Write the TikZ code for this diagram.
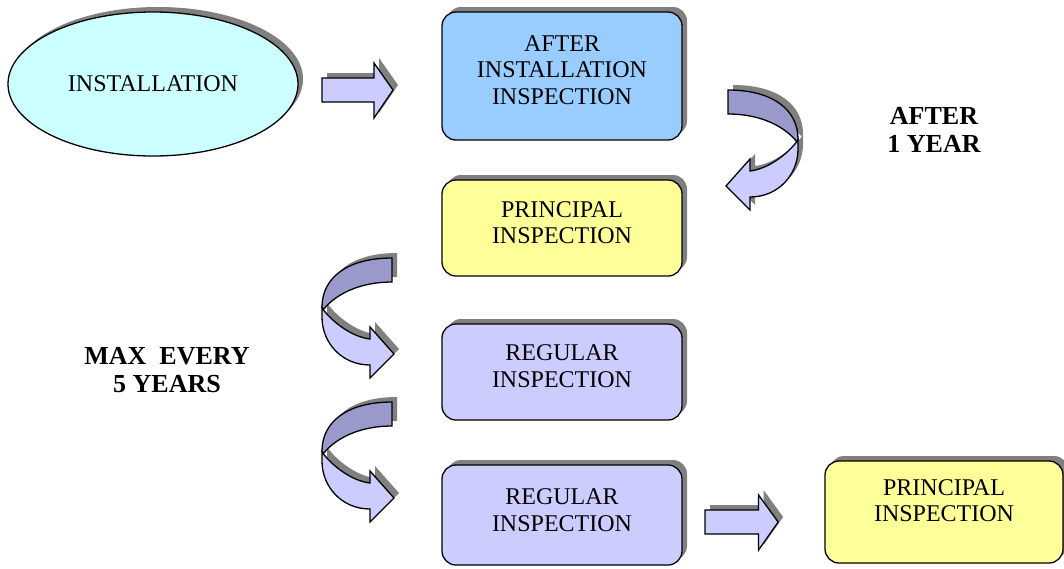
\documentclass[tikz,border=0pt]{standalone}
\usepackage{fontspec}
\setmainfont{Liberation Serif}
\usetikzlibrary{shapes.geometric,shadows}
\definecolor{boxblue}{HTML}{99CCFF}
\definecolor{boxyellow}{HTML}{FFFF99}
\definecolor{boxlav}{HTML}{CCCCFF}
\definecolor{ellcyan}{HTML}{CCFFFF}
\definecolor{curldark}{HTML}{9999CC}
\definecolor{shadowgray}{HTML}{808080}
\tikzset{
 shad/.style={drop shadow={shadow xshift=5pt,shadow yshift=5pt,fill=shadowgray,opacity=1}},
 stagebox/.style={draw=black,line width=1.3pt,rounded corners=14pt,align=center,
   font=\fontsize{24}{26.5}\selectfont,minimum width=240pt,inner sep=0pt,shad},
 blockarrow/.style={draw=black,line width=1.3pt,fill=boxlav,line join=miter},
 curlback/.style={draw=black,line width=1.3pt,fill=curldark,line join=miter},
 curlfront/.style={draw=black,line width=1.3pt,fill=boxlav,line join=miter},
 curlshadow/.style={fill=shadowgray},
 note/.style={font=\bfseries\fontsize{26}{28}\selectfont,align=center}
}
\newcommand\mycurlback{(0,0) .. controls (-45,0) and (-70,20) .. (-70,49) -- (-69,52) .. controls (-58,38) and (-35,24) .. (0,24) -- cycle}
\newcommand\mycurlfront{(-70,50) .. controls (-60,64) and (-40,79) .. (-22,81) -- (-22,69) -- (2,96) -- (-22,120) -- (-22,107) .. controls (-50,107) and (-70,85) .. (-70,59) -- cycle}
\newcommand\drawcurl[1]{%
 \begin{scope}[shift={(5,-5)}]\begin{scope}[#1]
   \fill[curlshadow] \mycurlback; \fill[curlshadow] \mycurlfront;
 \end{scope}\end{scope}
 \begin{scope}[#1]
   \filldraw[curlback] \mycurlback; \filldraw[curlfront] \mycurlfront;
 \end{scope}}
\newcommand\myarrowpath{(0,0) -- (52,0) -- (52,-15) -- (71,12) -- (52,40) -- (52,24) -- (0,24) -- cycle}
\begin{document}
\begin{tikzpicture}[x=1pt,y=-1pt]
\useasboundingbox (0,0) rectangle (1064,568);
% nodes
\node[ellipse,draw=black,line width=1.3pt,fill=ellcyan,minimum width=290pt,minimum height=144pt,
  inner sep=0pt,shad,font=\fontsize{24}{26.5}\selectfont] (inst) at (153,84) {INSTALLATION};
\node[stagebox,fill=boxblue,minimum height=128pt,text depth=12pt] (b1) at (562,76) {AFTER\\INSTALLATION\\INSPECTION};
\node[stagebox,fill=boxyellow,minimum height=96pt,text depth=11pt] (b2) at (562,228) {PRINCIPAL\\INSPECTION};
\node[stagebox,fill=boxlav,minimum height=96pt,text depth=12pt] (b3) at (562,372) {REGULAR\\INSPECTION};
\node[stagebox,fill=boxlav,minimum height=100pt,text depth=10pt] (b4) at (562,515) {REGULAR\\INSPECTION};
\node[stagebox,fill=boxyellow,minimum width=238pt,minimum height=102pt,text depth=23pt] (b5) at (944,512) {PRINCIPAL\\INSPECTION};
\node[note] (n1) at (934,130) {AFTER\\1 YEAR};
\node[note] (n2) at (167,370) {MAX\ \ EVERY\\5 YEARS};
% straight block arrows
\begin{scope}[shift={(327,73)}] \fill[curlshadow] \myarrowpath; \end{scope}
\begin{scope}[shift={(322,78)}] \filldraw[blockarrow] \myarrowpath; \end{scope}
\begin{scope}[shift={(710,505)},xscale=1.03] \fill[curlshadow] \myarrowpath; \end{scope}
\begin{scope}[shift={(705,510)},xscale=1.03] \filldraw[blockarrow] \myarrowpath; \end{scope}
% curled arrows
\drawcurl{shift={(728,90)},xscale=-1}
\drawcurl{shift={(392,258)}}
\drawcurl{shift={(392,402)}}
\end{tikzpicture}
\end{document}
